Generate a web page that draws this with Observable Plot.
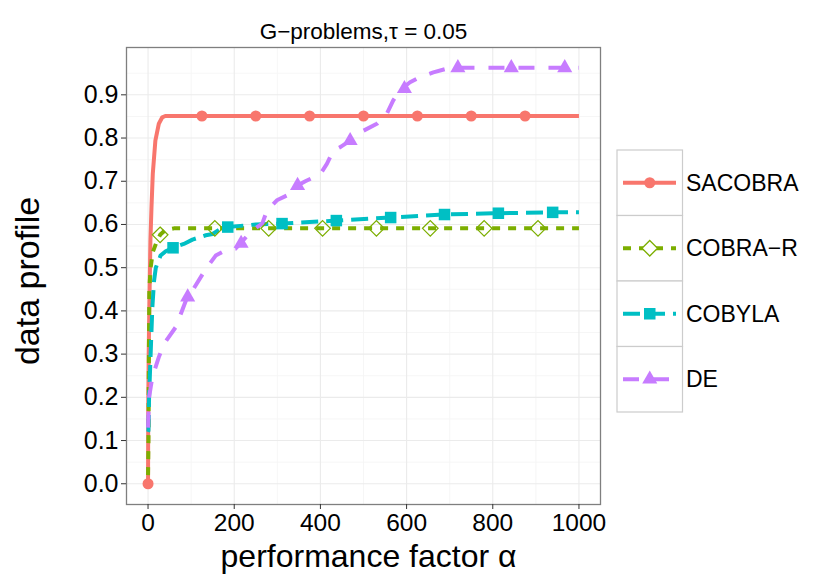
<!DOCTYPE html>
<html><head><meta charset="utf-8">
<script src="https://cdn.jsdelivr.net/npm/d3@7"></script>
<script src="https://cdn.jsdelivr.net/npm/@observablehq/plot@0.6"></script>
<style>
body{margin:0;background:#fff;}
</style></head><body><div id="chart"></div>
<script>
const titleText = "G\u2212problems,\u03c4 = 0.05";
const xLabelText = "performance factor \u03b1";
const yLabelText = "data profile";
const seriesNames = ["SACOBRA", "COBRA\u2212R", "COBYLA", "DE"];
const seriesColors = ["#F8766D", "#7CAE00", "#00BFC4", "#C77CFF"];
const xTicks = [0, 200, 400, 600, 800, 1000];
const xMinor = [100, 300, 500, 700, 900];
const yTicks = [0, 0.1, 0.2, 0.3, 0.4, 0.5, 0.6, 0.7, 0.8, 0.9];
const yMinor = [0.05, 0.15, 0.25, 0.35, 0.45, 0.55, 0.65, 0.75, 0.85, 0.95];

// SACOBRA
const sacobraX = [0, 0.5, 1.5, 3, 5.5, 8, 11, 17, 25, 33, 40, 1000];
const sacobraY = [0, 0.18, 0.3, 0.41, 0.563, 0.64, 0.717, 0.794, 0.833, 0.848, 0.851, 0.851];
const sacobraMarkX = [0, 125, 250, 375, 500, 625, 750, 875];
const sacobraMarkY = [0, 0.851, 0.851, 0.851, 0.851, 0.851, 0.851, 0.851];
// COBRA-R
const cobraX = [0, 1, 2, 3, 6, 11, 20, 28, 40, 60, 1000];
const cobraY = [0.02, 0.1, 0.3, 0.45, 0.5, 0.536, 0.56, 0.576, 0.587, 0.591, 0.591];
const cobraMarkX = [28, 155, 280, 405, 530, 655, 780, 905];
const cobraMarkY = [0.576, 0.591, 0.591, 0.591, 0.591, 0.591, 0.591, 0.591];
// COBYLA
const cobylaX = [0, 1, 2.4, 6, 10, 14, 18, 29, 41, 58, 83, 103, 134, 150, 168, 185, 250, 311, 437, 563, 688, 813, 939, 1000];
const cobylaY = [0.12, 0.123, 0.2, 0.3, 0.409, 0.47, 0.5, 0.528, 0.538, 0.546, 0.555, 0.565, 0.575, 0.578, 0.59, 0.594, 0.6, 0.602, 0.609, 0.616, 0.623, 0.626, 0.628, 0.628];
const cobylaMarkX = [58, 185, 311, 437, 563, 688, 813, 939];
const cobylaMarkY = [0.546, 0.594, 0.602, 0.609, 0.616, 0.623, 0.626, 0.628];
// DE
const deX = [0, 2.4, 10, 25, 37, 64, 76, 91, 103, 134, 157, 180, 203, 218, 241, 265, 276, 299, 322, 338, 347, 365, 400, 415, 430, 446, 469, 500, 531, 554, 569, 584, 608, 631, 662, 700, 1000];
const deY = [0.13, 0.2, 0.247, 0.293, 0.324, 0.362, 0.393, 0.432, 0.447, 0.497, 0.528, 0.54, 0.544, 0.56, 0.586, 0.602, 0.632, 0.656, 0.667, 0.686, 0.69, 0.70, 0.717, 0.74, 0.771, 0.779, 0.794, 0.817, 0.833, 0.856, 0.887, 0.91, 0.929, 0.941, 0.952, 0.9625, 0.9625];
const deMarkX = [92, 216, 347, 469, 595, 719, 843, 967];
const deMarkY = [0.432, 0.556, 0.69, 0.794, 0.914, 0.9625, 0.9625, 0.9625];

const zip = (xs, ys) => xs.map((x, i) => ({x, y: ys[i]}));

const series = [
  {line: zip(sacobraX, sacobraY), marks: zip(sacobraMarkX, sacobraMarkY), dash: null, symbol: "circle", r: 5.5, filled: true},
  {line: zip(cobraX, cobraY), marks: zip(cobraMarkX, cobraMarkY), dash: "8,8", symbol: "diamond2", r: 7, filled: false},
  {line: zip(cobylaX, cobylaY), marks: zip(cobylaMarkX, cobylaMarkY), dash: "17,8", symbol: "square", r: 6.5, filled: true},
  {line: zip(deX, deY), marks: zip(deMarkX, deMarkY), dash: "16,14", symbol: "triangle", r: 5.6, filled: true}
].map((s, i) => ({...s, name: seriesNames[i], color: seriesColors[i]}));

const chart = Plot.plot({
  width: 830, height: 581,
  marginLeft: 126, marginRight: 230, marginTop: 47, marginBottom: 77,
  style: {fontFamily: "'Liberation Sans', Arial, sans-serif", background: "white", color: "black"},
  x: {domain: [-50, 1050], label: null},
  y: {domain: [-0.048, 1.0095], label: null},
  marks: [
    Plot.ruleX(xMinor, {stroke: "#f5f5f5", strokeWidth: 0.9}),
    Plot.ruleY(yMinor, {stroke: "#f5f5f5", strokeWidth: 0.9}),
    Plot.ruleX(xTicks, {stroke: "#ebebeb", strokeWidth: 1.1}),
    Plot.ruleY(yTicks, {stroke: "#ebebeb", strokeWidth: 1.1}),
    Plot.frame({stroke: "#7f7f7f", strokeWidth: 1.3}),
    ...series.map(s => Plot.line(s.line, {x: "x", y: "y", stroke: s.color, strokeWidth: 4,
      strokeDasharray: s.dash, strokeLinecap: "butt", strokeLinejoin: "round"})),
    ...series.map(s => Plot.dot(s.marks, {x: "x", y: "y", symbol: s.symbol, r: s.r,
      fill: s.filled ? s.color : "none", stroke: s.filled ? "none" : s.color, strokeWidth: 1.3})),
    Plot.axisX(xTicks, {tickSize: 5, tickPadding: 4, fontSize: 24.5, stroke: "#333", fill: "black", label: null, tickFormat: d3.format("d")}),
    Plot.axisY(yTicks, {tickSize: 5, tickPadding: 3, fontSize: 25, stroke: "#333", fill: "black", label: null, tickFormat: d3.format(".1f")}),
    Plot.text([titleText], {frameAnchor: "top", dy: -9, lineAnchor: "bottom", fontSize: 22.5, fill: "black"}),
    Plot.text([xLabelText], {frameAnchor: "bottom", dy: 62, dx: 5, lineAnchor: "bottom", fontSize: 32, fill: "black"}),
    Plot.text([yLabelText], {frameAnchor: "left", textAnchor: "middle", dx: -88, dy: 5, rotate: -90, lineAnchor: "bottom", fontSize: 34, fill: "black"})
  ]
});

document.getElementById("chart").append(chart);

// Legend (right side)
const svg = d3.select(chart);
const lg = svg.append("g").attr("font-family", "'Liberation Sans', Arial, sans-serif").attr("text-anchor", "start");
const boxX = 617, boxW = 65.5, rowH = 65.5, top0 = 150;
const d3sym = {circle: d3.symbolCircle, diamond2: d3.symbolDiamond2, square: d3.symbolSquare, triangle: d3.symbolTriangle};
series.forEach((s, i) => {
  const y0 = top0 + i * rowH, cy = y0 + rowH / 2;
  lg.append("rect").attr("x", boxX).attr("y", y0).attr("width", boxW).attr("height", rowH)
    .attr("fill", "white").attr("stroke", "#cccccc").attr("stroke-width", 1.2);
  lg.append("line").attr("x1", 623).attr("x2", 676).attr("y1", cy).attr("y2", cy)
    .attr("stroke", s.color).attr("stroke-width", 4).attr("stroke-dasharray", s.dash);
  lg.append("path").attr("transform", `translate(${boxX + boxW / 2},${cy})`)
    .attr("d", d3.symbol(d3sym[s.symbol], Math.PI * s.r * s.r)())
    .attr("fill", s.filled ? s.color : "white").attr("stroke", s.filled ? "none" : s.color).attr("stroke-width", 1.3);
  lg.append("text").attr("x", 686).attr("y", cy).attr("dy", "0.35em").attr("font-size", 23)
    .attr("text-anchor", "start").attr("fill", "black").text(s.name);
});
</script></body></html>
